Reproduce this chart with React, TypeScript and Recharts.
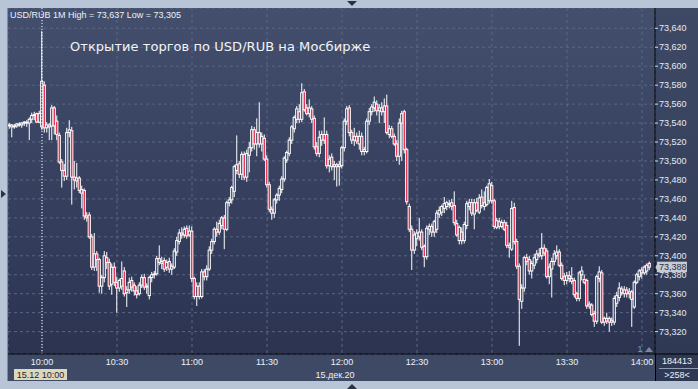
import React from 'react';
import { ComposedChart, Bar, XAxis, YAxis, CartesianGrid, ReferenceLine } from 'recharts';

// Prices are stored in thousandths of a rouble above 73.000 (e.g. 537 -> 73,537)
const BASE = 73;
const SCALE = 1000;
const FIRST_CANDLE = '09:47';

const opens = [
  537, 538, 536, 537, 539, 538, 540, 541, 540, 544,
  548, 550, 541, 536, 580, 535, 538, 537, 556, 542,
  527, 499, 490, 484, 530, 532, 483, 479, 482, 470,
  469, 442, 443, 420, 388, 402, 396, 368, 377, 398,
  393, 370, 388, 372, 366, 368, 384, 361, 364, 374,
  369, 363, 360, 369, 377, 367, 358, 377, 380, 381,
  397, 394, 395, 388, 394, 386, 388, 404, 415, 424,
  422, 429, 422, 426, 376, 357, 368, 357, 383, 378,
  386, 406, 415, 428, 425, 432, 440, 428, 456, 459,
  468, 490, 497, 486, 507, 483, 506, 514, 533, 518,
  530, 518, 524, 502, 475, 449, 445, 459, 464, 470,
  481, 501, 508, 522, 534, 544, 552, 544, 573, 556,
  550, 555, 545, 515, 508, 522, 528, 528, 495, 504,
  494, 496, 494, 495, 514, 542, 556, 530, 522, 526,
  518, 526, 510, 510, 542, 552, 556, 560, 553, 556,
  552, 558, 528, 534, 526, 518, 505, 540, 552, 512,
  452, 428, 406, 418, 420, 425, 410, 399, 428, 431,
  425, 428, 444, 446, 450, 452, 455, 456, 453, 434,
  416, 425, 416, 432, 452, 456, 444, 456, 446, 462,
  452, 454, 458, 474, 458, 430, 436, 431, 435, 432,
  411, 407, 451, 415, 389, 352, 366, 398, 396, 384,
  390, 396, 402, 400, 408, 405, 378, 386, 394, 400,
  404, 390, 378, 374, 379, 376, 374, 360, 355, 380,
  375, 374, 347, 348, 339, 331, 376, 382, 330, 334,
  334, 330, 330, 350, 356, 365, 360, 364, 360, 362,
  346, 372, 378, 385, 382, 384, 392,
];

const highs = [
  540, 539, 539, 540, 541, 541, 542, 543, 546, 551,
  552, 551, 553, 637, 584, 541, 540, 559, 558, 548,
  530, 502, 497, 535, 543, 536, 500, 498, 484, 474,
  471, 446, 446, 423, 424, 405, 398, 380, 405, 404,
  397, 392, 393, 378, 376, 394, 388, 368, 377, 378,
  372, 368, 372, 380, 381, 371, 379, 383, 384, 400,
  411, 399, 398, 396, 398, 392, 408, 420, 428, 430,
  431, 432, 432, 431, 378, 372, 372, 386, 386, 390,
  410, 418, 430, 436, 438, 442, 443, 458, 462, 474,
  496, 527, 500, 510, 510, 512, 520, 537, 536, 545,
  562, 530, 528, 506, 478, 452, 461, 466, 474, 484,
  505, 511, 525, 538, 548, 558, 560, 582, 576, 560,
  565, 558, 548, 520, 532, 532, 546, 532, 506, 508,
  500, 498, 500, 516, 545, 558, 559, 533, 535, 530,
  532, 530, 515, 545, 556, 560, 568, 564, 560, 562,
  566, 570, 538, 537, 529, 522, 545, 553, 554, 514,
  455, 432, 426, 428, 440, 428, 412, 432, 434, 434,
  438, 448, 452, 454, 462, 458, 459, 460, 468, 438,
  432, 430, 436, 458, 460, 460, 460, 461, 465, 470,
  468, 474, 481, 478, 460, 440, 440, 438, 438, 436,
  414, 458, 456, 418, 392, 370, 400, 402, 400, 395,
  402, 406, 408, 424, 412, 408, 392, 398, 406, 411,
  407, 393, 382, 383, 384, 388, 377, 362, 384, 389,
  380, 376, 352, 350, 342, 380, 389, 385, 336, 340,
  336, 335, 358, 362, 372, 368, 368, 367, 366, 364,
  374, 382, 386, 388, 390, 392, 394,
];

const lows = [
  534, 525, 534, 535, 536, 535, 537, 536, 522, 540,
  543, 540, 540, 533, 530, 530, 522, 522, 528, 522,
  497, 472, 479, 480, 525, 454, 470, 472, 466, 450,
  438, 436, 418, 385, 384, 384, 361, 360, 372, 386,
  364, 359, 368, 340, 362, 364, 357, 346, 360, 362,
  358, 355, 358, 366, 364, 360, 354, 372, 376, 379,
  390, 386, 383, 384, 382, 380, 386, 400, 412, 418,
  419, 418, 420, 372, 354, 347, 354, 355, 374, 374,
  384, 402, 412, 420, 422, 428, 407, 426, 452, 455,
  462, 486, 482, 480, 480, 478, 488, 510, 512, 505,
  514, 510, 500, 472, 446, 438, 440, 455, 458, 466,
  478, 498, 505, 518, 530, 540, 540, 541, 552, 548,
  546, 540, 512, 505, 504, 516, 518, 492, 488, 490,
  480, 473, 474, 492, 510, 538, 526, 518, 516, 518,
  512, 506, 506, 508, 538, 548, 552, 548, 540, 548,
  540, 528, 524, 524, 516, 500, 496, 500, 508, 454,
  425, 385, 402, 410, 416, 406, 388, 396, 422, 420,
  420, 424, 440, 442, 445, 448, 450, 448, 432, 420,
  412, 412, 413, 428, 448, 442, 428, 446, 444, 450,
  448, 452, 455, 455, 428, 428, 428, 429, 426, 408,
  398, 405, 412, 386, 305, 344, 362, 390, 380, 376,
  386, 392, 398, 396, 400, 376, 370, 356, 390, 396,
  388, 374, 369, 370, 372, 370, 356, 352, 352, 374,
  370, 344, 344, 336, 325, 328, 372, 328, 326, 328,
  320, 326, 327, 346, 352, 358, 356, 356, 355, 325,
  344, 370, 374, 376, 380, 380, 385,
];

const closes = [
  538, 536, 537, 539, 538, 540, 541, 540, 544, 548,
  549, 541, 550, 584, 535, 538, 536, 556, 537, 528,
  499, 490, 484, 530, 533, 483, 480, 482, 469, 466,
  442, 440, 420, 388, 402, 396, 368, 377, 400, 393,
  368, 388, 372, 366, 374, 376, 360, 364, 372, 367,
  363, 359, 369, 377, 367, 368, 377, 380, 381, 397,
  393, 392, 386, 393, 386, 389, 405, 416, 424, 422,
  428, 421, 426, 376, 357, 368, 357, 383, 378, 386,
  406, 415, 428, 425, 434, 440, 428, 456, 459, 472,
  494, 496, 486, 507, 483, 508, 514, 533, 518, 530,
  518, 526, 502, 475, 449, 445, 459, 464, 471, 481,
  503, 509, 522, 536, 546, 555, 544, 572, 554, 550,
  556, 544, 515, 508, 525, 528, 522, 495, 502, 494,
  496, 494, 496, 514, 542, 555, 530, 522, 526, 521,
  526, 510, 512, 542, 552, 557, 562, 553, 556, 552,
  558, 530, 534, 526, 518, 505, 540, 550, 512, 457,
  428, 406, 422, 424, 425, 409, 399, 429, 431, 425,
  436, 445, 448, 452, 455, 456, 454, 452, 435, 422,
  430, 416, 433, 455, 456, 445, 456, 448, 461, 453,
  456, 472, 476, 458, 431, 437, 431, 435, 428, 411,
  409, 450, 415, 389, 354, 366, 398, 394, 384, 392,
  398, 402, 400, 408, 403, 378, 388, 394, 402, 404,
  390, 376, 374, 379, 376, 373, 359, 355, 382, 384,
  372, 347, 349, 338, 331, 378, 383, 330, 334, 331,
  330, 332, 355, 358, 366, 361, 364, 360, 362, 354,
  372, 380, 384, 382, 388, 390, 388,
];

const xTickLabels = ['10:00', '10:30', '11:00', '11:30', '12:00', '12:30', '13:00', '13:30', '14:00'];
const yTickValues = [73.32, 73.34, 73.36, 73.38, 73.4, 73.42, 73.44, 73.46, 73.48, 73.5, 73.52, 73.54, 73.56, 73.58, 73.6, 73.62, 73.64];
const Y_DOMAIN: [number, number] = [73.2964, 73.6614];
const X_DOMAIN: [number, number] = [-0.6, 258.2];
const SYMBOL = 'USD/RUB';
const PERIOD = '1M';
const TITLE = 'Открытие торгов по USD/RUB на Мосбирже';
const DATE_LABEL = '15.дек.20';
const CURSOR_LABEL = '15.12 10:00';
const VOLUME_LABEL = '184413';
const COUNT_LABEL = '>258<';

const toMin = (s: string) => {
  const [h, m] = s.split(':').map(Number);
  return h * 60 + m;
};
const startMin = toMin(FIRST_CANDLE);
const xTickIdx = xTickLabels.map((s) => toMin(s) - startMin);
const idxToTime = (i: number) => {
  const t = startMin + i;
  const h = Math.floor(t / 60);
  const m = t % 60;
  return `${h}:${String(m).padStart(2, '0')}`;
};

const price = (v: number) => BASE + v / SCALE;
const fmt = (v: number) => v.toFixed(3).replace('.', ',');

const data = opens.map((o, i) => ({
  i,
  o: price(o),
  h: price(highs[i]),
  l: price(lows[i]),
  c: price(closes[i]),
  range: [price(lows[i]), price(highs[i])],
}));

const maxHigh = price(Math.max(...highs));
const minLow = price(Math.min(...lows));
const lastClose = price(closes[closes.length - 1]);

const RED = '#e3163c';
const WHITE = '#ffffff';
const FONT = '"Liberation Sans", Arial, sans-serif';

const Candle = (props: any) => {
  const { x, y, width, height, payload } = props;
  if (!payload || !Number.isFinite(y) || !Number.isFinite(height)) return null;
  const top = Math.min(y, y + height);
  const bot = Math.max(y, y + height);
  const hi = payload.h;
  const lo = payload.l;
  const span = hi - lo || 1e-9;
  const py = (v: number) => top + ((hi - v) / span) * (bot - top);
  const cx = x + width / 2;
  const yo = py(payload.o);
  const yc = py(payload.c);
  const bTop = Math.min(yo, yc);
  const bBot = Math.max(yo, yc);
  const bear = payload.c < payload.o;
  return (
    <g>
      <line x1={cx} x2={cx} y1={top} y2={bTop} stroke={WHITE} strokeWidth={1} />
      <line x1={cx} x2={cx} y1={bBot} y2={bot} stroke={WHITE} strokeWidth={1} />
      <rect
        x={cx - 1.1}
        y={bTop}
        width={2.2}
        height={Math.max(bBot - bTop, 0.5)}
        fill={bear ? RED : 'none'}
        stroke={WHITE}
        strokeWidth={1}
      />
    </g>
  );
};

const PriceTag = (props: any) => {
  const vb = props.viewBox || {};
  const right = (vb.x || 0) + (vb.width || 0);
  const cy = vb.y || 0;
  return (
    <g>
      <path d={`M${right} ${cy} L${right + 3} ${cy - 4} L${right + 3} ${cy + 4} Z`} fill="#c6cad2" />
      <rect x={right + 2} y={cy - 5.5} width={30} height={10.5} fill="#c6cad2" />
      <text x={right + 4} y={cy + 3.2} fontSize={9} fontFamily={FONT} fill="#26324c">
        {fmt(lastClose)}
      </text>
    </g>
  );
};

export default function App() {
  return (
    <div
      style={{
        position: 'absolute',
        left: 0,
        top: 0,
        width: 698,
        height: 389,
        background: '#b8c5d6',
        overflow: 'hidden',
      }}
    >
      <div style={{ position: 'absolute', left: 7, top: 8, width: 1, height: 373, background: '#7f8da3' }} />
      <div
        style={{
          position: 'absolute',
          left: 8,
          top: 8,
          width: 647,
          height: 346,
          background: 'linear-gradient(#434f6d, #2b3351)',
        }}
      />
      <div
        style={{
          position: 'absolute',
          left: 655,
          top: 8,
          width: 43,
          height: 373,
          background: 'linear-gradient(#3e4965, #2e3853)',
        }}
      />
      <div style={{ position: 'absolute', left: 8, top: 354, width: 647, height: 27, background: '#3e4965' }} />

      <div style={{ position: 'absolute', left: 8, top: 8 }}>
        <ComposedChart width={690} height={373} data={data} margin={{ top: 0, right: 0, bottom: 0, left: 0 }}>
          <CartesianGrid stroke="#5a6683" strokeDasharray="3 3" />
          <XAxis
            dataKey="i"
            type="number"
            domain={X_DOMAIN}
            ticks={xTickIdx}
            tickFormatter={idxToTime}
            height={27}
            tickLine={false}
            tickSize={2}
            tickMargin={3}
            axisLine={{ stroke: '#000000' }}
            tick={{ fill: '#eef1f6', fontSize: 9, fontFamily: FONT }}
            interval={0}
            allowDataOverflow
          />
          <YAxis
            orientation="right"
            type="number"
            domain={Y_DOMAIN}
            ticks={yTickValues}
            tickFormatter={fmt}
            width={43}
            tickSize={3}
            tickMargin={1}
            axisLine={{ stroke: '#000000' }}
            tickLine={{ stroke: '#d8dde6' }}
            tick={{ fill: '#e6eaf2', fontSize: 9, fontFamily: FONT, textAnchor: 'start' }}
            interval={0}
            allowDataOverflow
          />
          <ReferenceLine x={xTickIdx[0]} stroke={WHITE} strokeDasharray="1 2" strokeWidth={1} />
          <Bar dataKey="range" shape={Candle} barSize={2} isAnimationActive={false} />
          <ReferenceLine y={lastClose} stroke="none" label={<PriceTag />} ifOverflow="visible" />
        </ComposedChart>
      </div>

      <svg
        width={698}
        height={389}
        style={{ position: 'absolute', left: 0, top: 0, pointerEvents: 'none' }}
      >
        <text x={10} y={18} fontSize={9} fontFamily={FONT} fill="#eef1f6">
          {`${SYMBOL} ${PERIOD} High = ${fmt(maxHigh)} Low = ${fmt(minLow)}`}
        </text>
        <text x={70} y={51} fontSize={13} fontFamily='"DejaVu Sans", sans-serif' letterSpacing={0.05} fill="#f2f4f8">
          {TITLE}
        </text>
        <line x1={655} y1={354} x2={698} y2={354} stroke="#000000" />
        <line x1={655.5} y1={354} x2={655.5} y2={381} stroke="#000000" />
        <rect x={14} y={369} width={53} height={11} fill="#ddd8bc" />
        <text x={40.5} y={377.5} fontSize={9} fontFamily={FONT} fill="#1e2230" textAnchor="middle">
          {CURSOR_LABEL}
        </text>
        <text x={335} y={377.5} fontSize={9} fontFamily={FONT} fill="#eef1f6" textAnchor="middle">
          {DATE_LABEL}
        </text>
        <text x={677} y={363.5} fontSize={9} fontFamily={FONT} fill="#eef1f6" textAnchor="middle">
          {VOLUME_LABEL}
        </text>
        <line x1={659} y1={368.5} x2={698} y2={368.5} stroke="#8f9bb0" />
        <text x={677} y={378} fontSize={9} fontFamily={FONT} fill="#eef1f6" textAnchor="middle">
          {COUNT_LABEL}
        </text>
        <text x={640} y={352} fontSize={9} fontFamily={FONT} fill="#5aa2f2" textAnchor="middle">
          1
        </text>
        <path d="M645 352 L649 347 L653 352 Z" fill="#7c879c" />
        <path d="M1 190 L6 194 L1 198 Z" fill="#2a3346" />
        <path d="M347 1 L357 1 L352 6 Z" fill="#2a3346" />
        <path d="M347 389 L352 384 L357 389 Z" fill="#2a3346" />
      </svg>
    </div>
  );
}
